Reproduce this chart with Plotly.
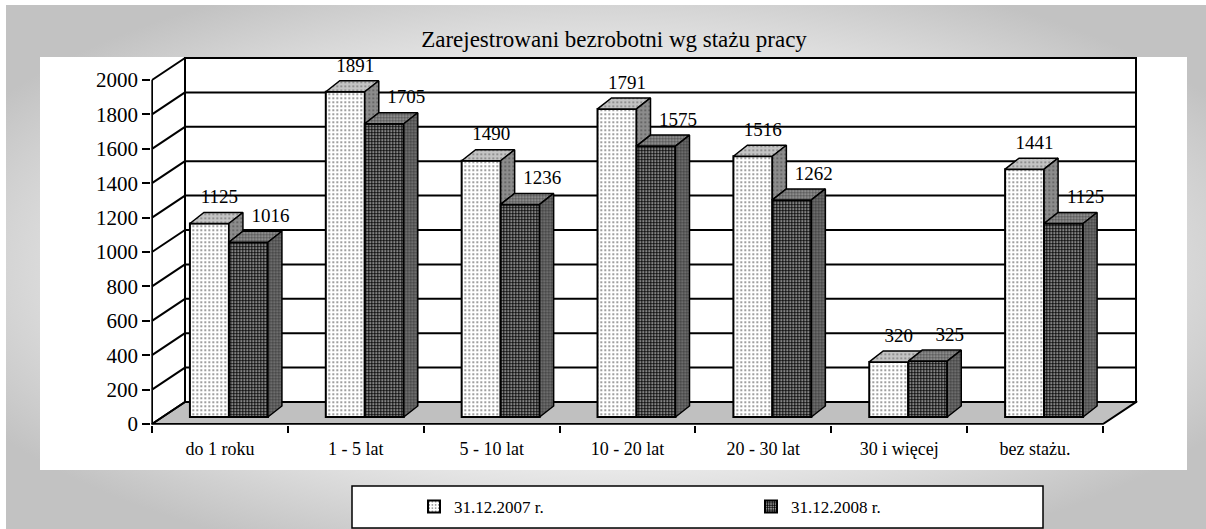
import base64
import plotly.graph_objects as go

# ---------------- data ----------------
categories = ["do 1 roku", "1 - 5 lat", "5 - 10 lat", "10 - 20 lat",
              "20 - 30 lat", "30 i więcej", "bez stażu."]
s2007 = [1125, 1891, 1490, 1791, 1516, 320, 1441]
s2008 = [1016, 1705, 1236, 1575, 1262, 325, 1125]
series_names = ["31.12.2007 r.", "31.12.2008 r."]
y_ticks = list(range(0, 2001, 200))
title_text = "Zarejestrowani bezrobotni wg stażu pracy"

# ---------------- geometry (styles) ----------------
W, H = 1206, 529
X0_PX = 152.0
XPX = 135.86
Y0_PX = 424.0
YPX = 0.172

FDX, FDY = 33 / XPX, 22 / YPX
BDX, BDY = 14 / XPX, 11 / YPX
BASE = 7 / YPX
SHIFT = 9 / XPX
BW = 39 / XPX
LBL1_DX, LBL2_DX, LBL_DY = 10 / XPX, 22 / XPX, 25 / YPX

ncat = len(categories)
xr = [-0.505, ncat - 0.5 + FDX + 0.01]
yr = [-4, 2000 + FDY + 10]
dom_x = [(X0_PX + (xr[0] + 0.5) * XPX) / W, (X0_PX + (xr[1] + 0.5) * XPX) / W]
dom_y = [(H - (Y0_PX - yr[0] * YPX)) / H, (H - (Y0_PX - yr[1] * YPX)) / H]

FONT = "Liberation Serif, Times New Roman, serif"
idx = list(range(ncat))
c1 = [i + SHIFT - BW / 2 for i in idx]
c2 = [i + SHIFT + BW / 2 for i in idx]

fig = go.Figure()

pat07 = dict(shape=".", fgcolor="black", bgcolor="white", size=4, solidity=0.1, fillmode="replace")
pat08 = dict(shape=".", fgcolor="black", bgcolor="white", size=3, solidity=0.7, fillmode="replace")

fig.add_bar(x=c1, y=s2007, base=BASE, width=BW, name=series_names[0],
            marker=dict(color="black", pattern=pat07, line=dict(color="black", width=2)),
            hoverinfo="skip")
fig.add_bar(x=c2, y=s2008, base=BASE, width=BW, name=series_names[1],
            marker=dict(color="black", pattern=pat08, line=dict(color="black", width=2)),
            hoverinfo="skip")


def top_poly(xc, v):
    xl, xrr, y = xc - BW / 2, xc + BW / 2, BASE + v
    return ([xl, xl + BDX, xrr + BDX, xrr, xl, None],
            [y, y + BDY, y + BDY, y, y, None])


def side_poly(xc, vtop, vbot):
    xrr = xc + BW / 2
    return ([xrr, xrr + BDX, xrr + BDX, xrr, xrr, None],
            [BASE + vtop, BASE + vtop + BDY, BASE + vbot + BDY, BASE + vbot, BASE + vtop, None])


def face_trace(polys, bg, size, solidity):
    xs, ys = [], []
    for px, py in polys:
        xs += px
        ys += py
    return go.Scatter(x=xs, y=ys, mode="lines", fill="toself",
                      fillcolor=bg,
                      fillpattern=dict(shape=".", fgcolor="black", bgcolor=bg,
                                       size=size, solidity=solidity),
                      line=dict(color="black", width=1.5),
                      showlegend=False, hoverinfo="skip")


top07 = [top_poly(c, v) for c, v in zip(c1, s2007)]
side07 = [side_poly(c, v1, v2) for c, v1, v2 in zip(c1, s2007, s2008) if v1 > v2]
top08 = [top_poly(c, v) for c, v in zip(c2, s2008)]
side08 = [side_poly(c, v, 0) for c, v in zip(c2, s2008)]

fig.add_trace(face_trace(top07, "#c4c4c4", 4, 0.15))
fig.add_trace(face_trace(side07, "#8c8c8c", 4, 0.15))
fig.add_trace(face_trace(top08, "#a0a0a0", 3, 0.5))
fig.add_trace(face_trace(side08, "#7c7c7c", 3, 0.5))

lblfont = dict(family=FONT, size=19, color="black")
fig.add_scatter(x=[c + LBL1_DX for c in c1], y=[BASE + v + LBL_DY for v in s2007],
                text=[str(v) for v in s2007], mode="text", textfont=lblfont,
                showlegend=False, hoverinfo="skip")
fig.add_scatter(x=[c + LBL2_DX for c in c2], y=[BASE + v + LBL_DY for v in s2008],
                text=[str(v) for v in s2008], mode="text", textfont=lblfont,
                showlegend=False, hoverinfo="skip")

shapes = []
shapes.append(dict(type="rect", xref="paper", yref="paper", x0=40 / W, x1=1187 / W,
                   y0=1 - 470 / H, y1=1 - 57 / H, fillcolor="white",
                   line=dict(width=0), layer="below"))
shapes.append(dict(type="rect", xref="paper", yref="paper", x0=352 / W, x1=1043 / W,
                   y0=1 - 528 / H, y1=1 - 486 / H, fillcolor="white",
                   line=dict(color="black", width=1.5), layer="below"))
xl_f, xr_f = -0.5, ncat - 0.5
shapes.append(dict(type="path", xref="x", yref="y", layer="below",
                   path=f"M{xl_f},0 L{xl_f + FDX},{FDY} L{xr_f + FDX},{FDY} L{xr_f},0 Z",
                   fillcolor="#c0c0c0", line=dict(color="black", width=2)))
shapes.append(dict(type="rect", xref="x", yref="y", layer="below",
                   x0=xl_f + FDX, x1=xr_f + FDX, y0=FDY, y1=y_ticks[-1] + FDY,
                   line=dict(color="black", width=2)))
for v in y_ticks[1:-1]:
    shapes.append(dict(type="line", xref="x", yref="y", layer="below",
                       x0=xl_f + FDX, x1=xr_f + FDX, y0=v + FDY, y1=v + FDY,
                       line=dict(color="black", width=2)))
for v in y_ticks:
    shapes.append(dict(type="line", xref="x", yref="y", layer="below",
                       x0=xl_f, x1=xl_f + FDX, y0=v, y1=v + FDY,
                       line=dict(color="black", width=2)))
shapes.append(dict(type="line", xref="x", yref="y", layer="below",
                   x0=xl_f, x1=xl_f, y0=0, y1=y_ticks[-1],
                   line=dict(color="black", width=2)))

svg = ('<svg xmlns="http://www.w3.org/2000/svg" width="1200" height="524" '
       'viewBox="0 0 1200 524" preserveAspectRatio="none"><defs>'
       '<radialGradient id="g" cx="0.5" cy="0.5" r="0.6">'
       '<stop offset="0" stop-color="#ffffff"/>'
       '<stop offset="0.55" stop-color="#f2f2f2"/>'
       '<stop offset="0.8" stop-color="#d8d8d8"/>'
       '<stop offset="1" stop-color="#c2c2c2"/>'
       '</radialGradient></defs>'
       '<rect x="0" y="0" width="1200" height="524" fill="url(#g)"/></svg>')
src = "data:image/svg+xml;base64," + base64.b64encode(svg.encode()).decode()

fig.update_layout(
    width=W, height=H, autosize=False,
    margin=dict(l=0, r=0, t=0, b=0, pad=0, autoexpand=False),
    paper_bgcolor="white", plot_bgcolor="rgba(0,0,0,0)",
    barmode="overlay",
    shapes=shapes,
    images=[dict(source=src, xref="paper", yref="paper", x=6 / W, y=1 - 5 / H,
                 sizex=1200 / W, sizey=524 / H, xanchor="left", yanchor="top",
                 sizing="stretch", layer="below")],
    title=dict(text=title_text, x=614 / W, xanchor="center", y=1 - 39 / H,
               yanchor="middle", yref="container",
               font=dict(family=FONT, size=23, color="black")),
    xaxis=dict(range=xr, domain=dom_x, showgrid=False, zeroline=False, showline=False,
               automargin=False,
               tickmode="array", tickvals=idx, ticktext=categories, ticks="",
               ticklabelstandoff=11,
               tickfont=dict(family=FONT, size=18, color="black"),
               minor=dict(tickmode="array", tickvals=[i - 0.5 for i in range(ncat + 1)],
                          ticks="outside", ticklen=7, tickwidth=2, tickcolor="black",
                          showgrid=False)),
    yaxis=dict(range=yr, domain=dom_y, showgrid=False, zeroline=False, showline=False,
               automargin=False,
               tickmode="array", tickvals=y_ticks, ticks="outside", ticklen=8,
               tickwidth=2, tickcolor="black",
               tickfont=dict(family=FONT, size=21, color="black")),
    legend=dict(orientation="h", x=414 / W, xanchor="left", y=1 - 507 / H,
                yanchor="middle", bgcolor="rgba(0,0,0,0)", borderwidth=0,
                entrywidth=292, entrywidthmode="pixels",
                font=dict(family=FONT, size=17, color="black")),
    showlegend=True,
)

fig.write_html("out.html", config={"displayModeBar": False},
               post_script="document.body.style.margin='0';")
